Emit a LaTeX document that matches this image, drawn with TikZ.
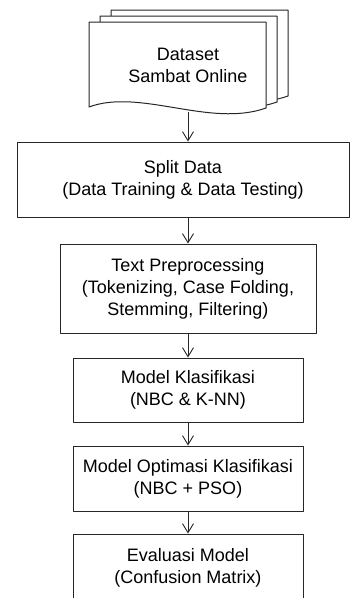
\documentclass[tikz,border=0pt]{standalone}
\usepackage{fontspec}
\setmainfont{Liberation Sans}
\usepackage{tikz}
\usetikzlibrary{arrows.meta}

\begin{document}
\begin{tikzpicture}[x=1pt, y=-1pt, line join=round,
  font=\fontsize{18}{22}\selectfont,
  docline/.style={draw=black!85, fill=white, line width=1pt},
  box/.style={draw=black!85, fill=white, line width=1pt, align=center, inner sep=0pt},
  flow/.style={-{Straight Barb[length=9pt, width=11pt]}, draw=black!85, line width=0.9pt}]
% Page frame
\clip (0,0) rectangle (350,598);
\fill[white] (0,0) rectangle (350,598);
% Stacked documents (back to front)
\foreach \dx/\dy in {22/-12, 11/-6, 0/0} {
  \draw[docline, shift={(\dx,\dy)}] (89,22) -- (266,22) -- (266,108)
    .. controls (210,128) and (140,88) .. (89,107) -- cycle;
}
\node[align=center] (dataset) at (188,65) {Dataset\\Sambat Online};
\coordinate (docbase) at (188,112);
% Process boxes
\node[box, minimum width=332pt, minimum height=75pt] (split) at (183,179.5)
  {Split Data\\(Data Training \& Data Testing)};
\node[box, minimum width=256pt, minimum height=89pt] (prep) at (188,288.5)
  {Text Preprocessing\\(Tokenizing, Case Folding,\\Stemming, Filtering)};
\node[box, minimum width=230pt, minimum height=64pt] (klas) at (188,390)
  {Model Klasifikasi\\(NBC \& K-NN)};
\node[box, minimum width=230pt, minimum height=65pt] (optim) at (188,478.5)
  {Model Optimasi Klasifikasi\\(NBC + PSO)};
\node[box, minimum width=230pt, minimum height=68pt] (eval) at (188,568)
  {Evaluasi Model\\(Confusion Matrix)};
% Flow arrows
\draw[flow] (docbase) -- (docbase |- split.north);
\draw[flow] (docbase |- split.south) -- (prep.north);
\draw[flow] (prep.south) -- (klas.north);
\draw[flow] (klas.south) -- (optim.north);
\draw[flow] (optim.south) -- (eval.north);
\end{tikzpicture}
\end{document}
